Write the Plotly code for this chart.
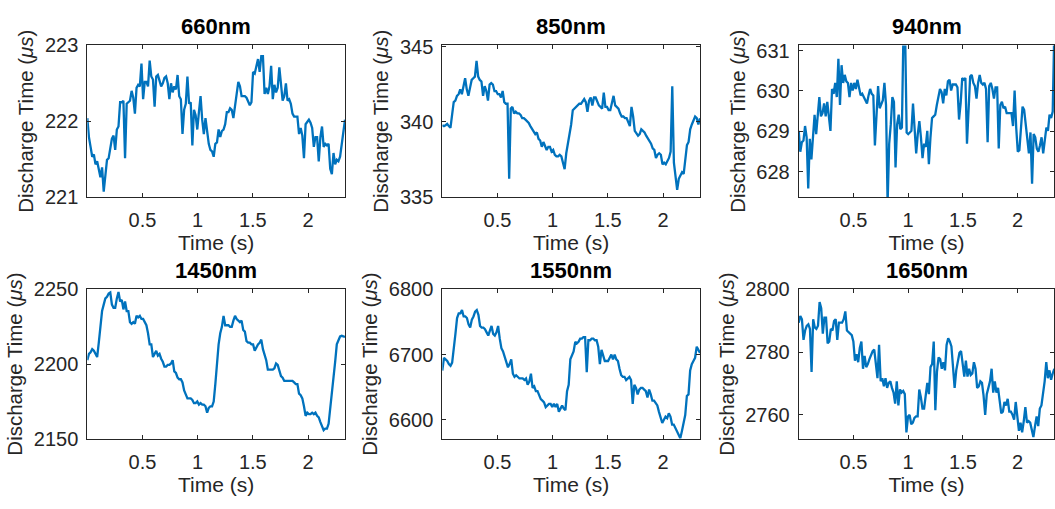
import plotly.graph_objects as go

# ---------------- data ----------------
wavelengths = ["660nm", "850nm", "940nm", "1450nm", "1550nm", "1650nm"]
duration_s = 2.335

v660 = [222.04, 221.79, 221.66, 221.53, 221.56, 221.43, 221.47, 221.37, 221.26, 221.39,
        221.07, 221.28, 221.49, 221.51, 221.62, 221.77, 221.81, 221.62, 221.89, 221.93,
        222.25, 222.25, 222.27, 221.51, 222.23, 222.25, 222.27, 222.40, 222.31, 222.10,
        222.44, 222.48, 222.46, 222.76, 222.29, 222.52, 222.52, 222.46, 222.80, 222.59,
        222.55, 222.19, 222.59, 222.61, 222.52, 222.46, 222.50, 222.57, 222.59, 222.50,
        222.29, 222.50, 222.38, 222.46, 222.42, 222.61, 222.33, 222.29, 221.83, 222.15,
        222.23, 222.59, 222.23, 222.25, 221.68, 222.15, 222.08, 221.89, 222.12, 222.33,
        222.02, 221.83, 222.04, 221.83, 221.70, 221.62, 221.60, 221.53, 221.70, 221.72,
        221.89, 221.79, 221.87, 221.89, 221.96, 222.12, 222.12, 222.17, 222.15, 222.04,
        222.19, 222.38, 222.52, 222.46, 222.33, 222.33, 222.33, 222.31, 222.27, 222.21,
        222.25, 222.65, 222.63, 222.71, 222.82, 222.65, 222.86, 222.86, 222.36, 222.44,
        222.36, 222.46, 222.73, 222.29, 222.48, 222.38, 222.44, 222.71, 222.46, 222.27,
        222.33, 222.50, 222.27, 222.29, 222.23, 222.10, 222.06, 222.06, 222.06, 221.83,
        221.91, 221.81, 221.51, 221.96, 222.00, 222.02, 221.98, 221.91, 221.66, 221.79,
        221.79, 221.47, 221.79, 221.93, 221.66, 221.70, 221.68, 221.70, 221.37, 221.30,
        221.58, 221.43, 221.49, 221.47, 221.53, 221.72, 221.87, 222.02]

v850 = [339.78, 339.72, 339.78, 339.87, 339.72, 339.61, 340.47, 341.32, 341.42, 341.74,
        341.85, 342.17, 341.85, 342.38, 342.91, 342.17, 341.74, 342.27, 342.80, 342.91,
        343.02, 344.08, 343.02, 342.80, 342.70, 341.74, 342.38, 342.06, 341.42, 342.49,
        342.59, 342.49, 342.06, 342.06, 341.85, 341.85, 341.63, 342.06, 341.32, 341.21,
        341.21, 336.21, 340.89, 341.00, 340.57, 340.68, 340.57, 340.57, 340.47, 340.25,
        340.25, 340.15, 340.04, 339.93, 339.72, 339.51, 339.30, 339.19, 339.30, 338.87,
        338.76, 338.34, 338.66, 338.34, 338.13, 338.34, 338.34, 338.02, 338.13, 337.81,
        337.70, 337.70, 337.81, 337.70, 337.28, 336.85, 337.91, 338.55, 339.19, 339.83,
        340.78, 340.89, 341.00, 341.10, 341.21, 341.21, 341.42, 341.53, 341.32, 340.68,
        341.42, 341.63, 341.10, 341.63, 341.63, 341.32, 341.10, 341.00, 340.89, 341.95,
        341.00, 341.00, 340.78, 340.78, 341.21, 341.74, 341.10, 341.00, 340.89, 340.57,
        340.36, 340.36, 340.25, 340.25, 339.93, 339.72, 341.00, 340.36, 339.40, 339.19,
        339.08, 339.19, 339.51, 339.40, 339.30, 339.08, 338.87, 338.66, 338.55, 338.23,
        338.13, 337.60, 337.81, 337.91, 337.81, 337.17, 337.28, 337.17, 337.38, 337.60,
        338.02, 342.38, 337.28, 336.53, 335.47, 336.21, 336.43, 336.64, 336.53, 337.38,
        338.45, 338.66, 339.51, 339.83, 340.15, 340.36, 340.25, 339.83, 340.25]

v940 = [629.01, 628.49, 628.73, 628.77, 629.13, 628.85, 627.58, 628.81, 628.30, 628.85,
        629.41, 628.93, 629.41, 629.85, 629.37, 629.45, 629.69, 629.37, 629.73, 629.37,
        629.01, 630.05, 629.93, 630.20, 629.85, 630.80, 629.65, 630.64, 630.20, 630.40,
        630.24, 630.20, 629.85, 630.20, 630.01, 630.20, 630.05, 630.28, 630.12, 629.89,
        629.93, 629.85, 629.81, 629.69, 629.89, 630.05, 629.93, 629.89, 628.65, 629.41,
        630.12, 629.57, 629.69, 629.77, 630.20, 629.65, 627.20, 628.69, 629.17, 629.85,
        629.73, 628.10, 629.17, 629.41, 629.05, 629.09, 631.50, 631.50, 628.97, 628.93,
        628.97, 629.01, 629.69, 629.17, 628.45, 628.93, 629.25, 628.85, 628.33, 628.69,
        628.61, 629.01, 628.18, 628.85, 629.33, 629.37, 629.41, 629.65, 629.85, 630.05,
        629.97, 629.69, 630.05, 629.89, 630.24, 630.28, 630.01, 630.16, 630.16, 630.16,
        630.09, 629.29, 629.69, 630.32, 630.28, 630.32, 628.69, 629.65, 630.36, 630.40,
        630.20, 630.12, 629.81, 630.20, 630.40, 630.20, 630.16, 630.20, 630.05, 628.73,
        630.12, 630.20, 630.05, 629.81, 630.09, 630.09, 628.57, 629.65, 629.73, 629.57,
        629.61, 629.45, 629.45, 629.45, 629.45, 629.13, 630.01, 629.09, 628.49, 628.53,
        629.21, 629.61, 629.53, 629.21, 628.81, 628.45, 628.97, 627.70, 628.93, 628.85,
        628.57, 628.49, 628.65, 628.85, 628.45, 628.81, 629.09, 629.01, 629.41, 629.33,
        629.49, 631.50]

v1450 = [2202.6, 2206.8, 2207.9, 2210.0, 2208.9, 2206.8, 2204.7, 2214.3, 2224.9, 2235.5,
         2239.8, 2244.0, 2245.1, 2247.2, 2247.9, 2239.8, 2237.7, 2237.7, 2244.0, 2248.3,
         2241.9, 2243.0, 2236.6, 2241.9, 2235.5, 2235.5, 2228.1, 2227.0, 2228.1, 2227.0,
         2232.3, 2231.3, 2232.3, 2230.2, 2230.2, 2228.1, 2226.0, 2220.6, 2213.2, 2213.2,
         2204.7, 2206.8, 2208.9, 2205.7, 2206.8, 2203.6, 2201.5, 2198.3, 2198.3, 2199.4,
         2199.4, 2200.4, 2202.6, 2195.1, 2194.0, 2190.9, 2189.8, 2189.8, 2187.7, 2182.3,
         2179.1, 2177.0, 2177.0, 2177.0, 2176.0, 2173.8, 2173.8, 2174.9, 2172.8, 2173.8,
         2172.8, 2172.8, 2171.7, 2167.4, 2170.6, 2171.7, 2171.7, 2174.9, 2186.6, 2201.5,
         2213.2, 2220.6, 2224.9, 2232.3, 2226.0, 2226.0, 2226.0, 2224.9, 2224.9, 2229.1,
         2232.3, 2230.2, 2229.1, 2228.1, 2229.1, 2222.8, 2221.7, 2215.3, 2214.3, 2214.3,
         2213.2, 2213.2, 2208.9, 2211.1, 2213.2, 2214.3, 2216.4, 2210.0, 2206.8, 2202.6,
         2196.2, 2196.2, 2196.2, 2196.2, 2197.2, 2200.4, 2199.4, 2195.1, 2191.9, 2190.9,
         2188.7, 2188.7, 2188.7, 2188.7, 2188.7, 2188.7, 2187.7, 2186.6, 2186.6, 2180.2,
         2179.1, 2177.0, 2171.7, 2165.3, 2167.4, 2166.4, 2166.4, 2167.4, 2166.4, 2167.4,
         2165.3, 2164.3, 2161.1, 2157.9, 2155.7, 2156.8, 2156.8, 2160.0, 2169.6, 2182.3,
         2190.9, 2201.5, 2213.2, 2216.4, 2218.5, 2218.9, 2218.5, 2218.1]

v1550 = [6675.6, 6695.1, 6692.7, 6690.2, 6685.4, 6682.9, 6687.8, 6707.3, 6731.7, 6756.1,
         6763.4, 6763.4, 6768.3, 6758.5, 6758.5, 6756.1, 6746.3, 6741.5, 6753.7, 6758.5,
         6765.9, 6768.3, 6761.0, 6743.9, 6741.5, 6741.5, 6739.0, 6734.1, 6729.3, 6736.6,
         6743.9, 6731.7, 6729.3, 6734.1, 6743.9, 6724.4, 6709.8, 6704.9, 6697.6, 6687.8,
         6680.5, 6685.4, 6692.7, 6670.7, 6665.9, 6668.3, 6665.9, 6663.4, 6663.4, 6663.4,
         6661.0, 6663.4, 6653.7, 6658.5, 6670.7, 6648.8, 6651.2, 6643.9, 6643.9, 6639.0,
         6631.7, 6629.3, 6626.8, 6619.5, 6622.0, 6624.4, 6624.4, 6619.5, 6624.4, 6619.5,
         6624.4, 6612.2, 6617.1, 6622.0, 6617.1, 6614.6, 6643.9, 6653.7, 6692.7, 6700.0,
         6704.9, 6719.5, 6717.1, 6719.5, 6724.4, 6724.4, 6726.8, 6726.8, 6673.2, 6722.0,
         6722.0, 6724.4, 6724.4, 6722.0, 6722.0, 6712.2, 6685.4, 6707.3, 6700.0, 6690.2,
         6690.2, 6690.2, 6695.1, 6700.0, 6692.7, 6700.0, 6692.7, 6690.2, 6678.0, 6668.3,
         6665.9, 6665.9, 6661.0, 6663.4, 6665.9, 6661.0, 6624.4, 6653.7, 6648.8, 6639.0,
         6646.3, 6648.8, 6648.8, 6646.3, 6643.9, 6634.1, 6646.3, 6639.0, 6629.3, 6629.3,
         6624.4, 6622.0, 6612.2, 6604.9, 6595.1, 6600.0, 6604.9, 6602.4, 6609.8, 6604.9,
         6592.7, 6592.7, 6587.8, 6582.9, 6578.0, 6571.7, 6582.9, 6595.1, 6607.3, 6636.6,
         6639.0, 6675.6, 6685.4, 6690.2, 6695.1, 6712.2, 6707.3, 6702.4]

v1650 = [2789.4, 2791.5, 2790.5, 2783.9, 2786.9, 2788.4, 2788.9, 2787.4, 2773.7, 2790.5,
         2787.9, 2787.4, 2788.4, 2796.0, 2794.0, 2785.9, 2791.0, 2791.0, 2782.8, 2783.4,
         2787.4, 2786.9, 2789.9, 2790.5, 2783.9, 2789.4, 2789.4, 2789.4, 2790.5, 2793.0,
         2786.9, 2786.4, 2785.9, 2785.4, 2783.4, 2777.3, 2779.3, 2776.8, 2781.3, 2783.4,
         2774.7, 2778.8, 2775.2, 2776.2, 2777.8, 2779.3, 2780.3, 2780.8, 2775.7, 2771.7,
         2782.3, 2770.7, 2771.7, 2769.1, 2771.7, 2768.6, 2770.2, 2770.7, 2768.6, 2767.1,
         2763.6, 2770.7, 2763.0, 2768.1, 2767.1, 2767.6, 2766.6, 2754.4, 2759.5, 2760.0,
         2757.0, 2757.5, 2759.0, 2759.5, 2759.5, 2768.1, 2765.6, 2762.0, 2762.0, 2766.6,
         2770.2, 2766.6, 2775.2, 2776.2, 2783.4, 2761.5, 2773.7, 2778.3, 2777.8, 2774.7,
         2776.8, 2774.2, 2782.3, 2784.4, 2783.4, 2781.8, 2775.2, 2768.6, 2774.2, 2777.8,
         2779.8, 2780.3, 2775.7, 2772.2, 2777.3, 2772.2, 2774.7, 2772.7, 2773.2, 2776.8,
         2774.7, 2768.6, 2769.1, 2770.7, 2770.2, 2766.1, 2760.0, 2766.6, 2768.6, 2770.7,
         2774.7, 2767.1, 2770.7, 2767.1, 2768.6, 2765.1, 2760.5, 2761.0, 2764.1, 2763.0,
         2765.1, 2761.0, 2761.0, 2760.0, 2758.5, 2764.1, 2758.5, 2754.9, 2757.5, 2754.4,
         2758.0, 2762.5, 2757.5, 2758.0, 2757.5, 2755.4, 2752.9, 2756.4, 2759.5, 2756.4,
         2762.0, 2763.0, 2766.6, 2770.7, 2776.8, 2771.7, 2774.2, 2771.2, 2773.2, 2774.7]

series = [v660, v850, v940, v1450, v1550, v1650]
y_ranges = [[221, 223], [335, 345.1], [627.37, 631.13],
            [2150, 2250], [6571, 6800], [2752.4, 2800]]
y_dticks = [1, 5, 1, 50, 100, 20]
x_ticks = [0.5, 1, 1.5, 2]
x_tick_text = ["0.5", "1", "1.5", "2"]

# ---------------- figure ----------------
W, H = 1055, 509
col_px = [(87.3, 345.0), (442.3, 700.0), (798.7, 1054.3)]
row_px = [(36.0, 194.3), (291.0, 447.0)]

FONT = "Liberation Sans, Arial, Helvetica, sans-serif"
TXT = "#262626"
LINE = "#0072BD"

fig = go.Figure()
layout = dict(width=W, height=H, margin=dict(l=0, r=0, t=0, b=0),
              paper_bgcolor="white", plot_bgcolor="white", showlegend=False,
              font=dict(family=FONT, color=TXT))
annotations = []

for i, vals in enumerate(series):
    r, c = divmod(i, 3)
    n = len(vals)
    t = [duration_s * k / (n - 1) for k in range(n)]
    suffix = "" if i == 0 else str(i + 1)
    fig.add_trace(go.Scatter(x=t, y=vals, mode="lines",
                             line=dict(color=LINE, width=2.3),
                             xaxis="x" + suffix, yaxis="y" + suffix,
                             hoverinfo="skip"))
    x0, x1 = col_px[c]
    y0, y1 = row_px[r]
    common = dict(showline=True, linecolor=TXT, linewidth=1, mirror="ticks",
                  ticks="inside", ticklen=4, tickcolor=TXT, tickwidth=1,
                  showgrid=False, zeroline=False,
                  tickfont=dict(family=FONT, size=20, color=TXT))
    layout["xaxis" + suffix] = dict(
        common, domain=[x0 / W, x1 / W], range=[0, duration_s],
        anchor="y" + suffix, tickvals=x_ticks, ticktext=x_tick_text,
        ticklabelstandoff=5,
        title=dict(text="Time (s)", font=dict(family=FONT, size=21, color=TXT), standoff=5))
    layout["yaxis" + suffix] = dict(
        common, domain=[1 - y1 / H, 1 - y0 / H], range=y_ranges[i],
        anchor="x" + suffix, dtick=y_dticks[i], tick0=0,
        ticklabelstandoff=4,
        title=dict(text="Discharge Time (<i>μs</i>)",
                   font=dict(family=FONT, size=20.5, color=TXT), standoff=5))
    annotations.append(dict(text="<b>%s</b>" % wavelengths[i], xref="paper", yref="paper",
                            x=(x0 + x1) / 2 / W, y=1 - y0 / H, xanchor="center",
                            yanchor="bottom", yshift=4, showarrow=False,
                            font=dict(family=FONT, size=22, color="black")))

layout["annotations"] = annotations
fig.update_layout(**layout)
fig.write_html("out.html")
